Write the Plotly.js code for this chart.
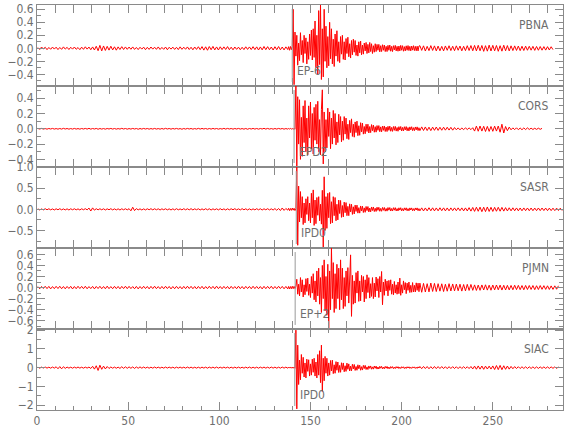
<!DOCTYPE html>
<html><head><meta charset="utf-8">
<script src="https://cdn.plot.ly/plotly-3.0.1.min.js"></script>
<style>html,body{margin:0;padding:0;background:#fff}#chart{width:580px;height:440px}</style>
</head><body><div id="chart"></div>
<script>
const stations = ['PBNA','CORS','SASR','PJMN','SIAC'];
const pickTimes = [140.0, 141.0, 142.2, 141.6, 141.4];
const pickLabels = ['EP-6','EPD2','IPD0','EP+2','IPD0'];
const yRanges = [[-0.58,0.666],[-0.50,0.56],[-0.915,1.002],[-0.748,0.714],[-2.26,2.06]];
const yDticks = [0.2,0.2,0.5,0.2,1];
const yMinorDticks = [0.1,0.1,0.25,0.1,0.5];
const yTickFormats = ['.1f','.1f','.1f','.1f','d'];
const xRange = [0, 288.5];

// sampling of the three stored segments (seconds)
const PRE_T0 = 0.5, PRE_DT = 1, MAIN_T0 = 138, MAIN_DT = 0.5, POST_T0 = 210, POST_DT = 1;

const pbnaPre = [0.012,-0.018,0.02,-0.01,0.016,-0.021,0.013,-0.015,0.019,-0.012,
0.017,-0.02,0.013,-0.016,0.022,-0.012,0.015,-0.019,0.016,-0.013,
0.02,-0.015,0.012,-0.021,0.018,-0.016,0.023,-0.013,0.019,-0.022,
0.021,-0.026,0.031,-0.037,0.045,-0.04,0.036,-0.033,0.03,-0.028,
0.032,-0.025,0.023,-0.029,0.022,-0.019,0.025,-0.018,0.021,-0.016,
0.019,-0.015,0.021,-0.017,0.013,-0.02,0.016,-0.013,0.018,-0.021,
0.015,-0.017,0.02,-0.013,0.017,-0.016,0.021,-0.018,0.014,-0.016,
0.02,-0.022,0.016,-0.013,0.018,-0.017,0.015,-0.02,0.022,-0.016,
0.017,-0.015,0.021,-0.019,0.016,-0.023,0.02,-0.017,0.024,-0.021,
0.026,-0.028,0.023,-0.03,0.027,-0.022,0.029,-0.025,0.021,-0.026,
0.023,-0.02,0.022,-0.018,0.026,-0.021,0.017,-0.023,0.02,-0.016,
0.018,-0.022,0.016,-0.02,0.023,-0.017,0.021,-0.019,0.025,-0.02,
0.022,-0.026,0.021,-0.024,0.028,-0.021,0.025,-0.022,0.02,-0.026,
0.024,-0.021,0.027,-0.023,0.02,-0.025,0.022,-0.019];
const pbnaMain = [0.025,-0.03,0.028,-0.022,0.03,0.6,-0.56,0.25,-0.12,0.2,
-0.26,0.08,-0.19,0.24,-0.1,0.12,-0.22,0.2,-0.08,0.16,
-0.24,0.1,-0.17,0.22,-0.11,0.28,-0.18,0.3,-0.14,0.42,
-0.3,0.2,-0.4,0.58,-0.25,0.666,-0.48,0.3,-0.44,0.6,
-0.2,0.34,-0.3,0.18,-0.27,0.4,-0.16,0.3,-0.24,0.14,
-0.28,0.22,-0.12,0.27,-0.2,0.1,-0.22,0.18,-0.09,0.2,
-0.17,0.1,-0.18,0.15,-0.08,0.17,-0.13,0.07,-0.15,0.12,
-0.1,0.14,-0.06,0.12,-0.11,0.05,-0.12,0.1,-0.07,0.11,
-0.1,0.05,-0.09,0.08,-0.04,0.09,-0.08,0.06,-0.07,0.09,
-0.05,0.07,-0.08,0.04,-0.06,0.07,-0.05,0.06,-0.03,0.06,
-0.055,0.04,-0.05,0.055,-0.03,0.05,-0.05,0.03,-0.05,0.045,
-0.03,0.05,-0.045,0.03,-0.05,0.04,-0.025,0.045,-0.04,0.03,
-0.045,0.035,-0.04,0.045,-0.03,0.04,-0.045,0.025,-0.04,0.038,
-0.03,0.042,-0.035,0.03,-0.04,0.035,-0.028,0.04,-0.035,0.03,
-0.038,0.032,-0.04,0.035];
const pbnaPost = [0.04,-0.032,0.038,-0.042,0.03,-0.036,0.041,-0.033,0.037,-0.04,
0.034,-0.038,0.03,-0.04,0.036,-0.031,0.039,-0.035,0.032,-0.037,
0.038,-0.03,0.035,-0.039,0.031,-0.036,0.04,-0.034,0.042,-0.038,
0.044,-0.04,0.046,-0.038,0.043,-0.047,0.04,-0.044,0.048,-0.041,
0.045,-0.039,0.043,-0.046,0.04,-0.044,0.047,-0.038,0.042,-0.04,
0.038,-0.035,0.037,-0.033,0.035,-0.036,0.032,-0.034,0.033,-0.03,
0.031,-0.029,0.03,-0.032,0.028,-0.03,0.027,-0.029,0.026,-0.028,
0.025,-0.026,0.024,-0.02];

const corsPre = [0.004,-0.003,0.005,-0.004,0.003,-0.005,0.004,-0.003,0.005,-0.004,
0.003,-0.005,0.004,-0.004,0.006,-0.003,0.004,-0.005,0.003,-0.004,
0.005,-0.004,0.003,-0.005,0.004,-0.003,0.005,-0.004,0.006,-0.005,
0.004,-0.003,0.005,-0.006,0.004,-0.004,0.003,-0.005,0.004,-0.003,
0.005,-0.004,0.004,-0.005,0.003,-0.004,0.006,-0.003,0.004,-0.005,
0.003,-0.004,0.005,-0.003,0.004,-0.006,0.004,-0.004,0.005,-0.003,
0.004,-0.005,0.003,-0.004,0.005,-0.004,0.003,-0.005,0.004,-0.004,
0.006,-0.003,0.004,-0.005,0.004,-0.003,0.005,-0.004,0.003,-0.006,
0.004,-0.004,0.005,-0.003,0.004,-0.005,0.003,-0.004,0.006,-0.004,
0.005,-0.003,0.004,-0.005,0.004,-0.004,0.005,-0.003,0.004,-0.005,
0.003,-0.004,0.006,-0.004,0.005,-0.003,0.004,-0.005,0.004,-0.003,
0.005,-0.004,0.003,-0.005,0.004,-0.006,0.004,-0.003,0.005,-0.004,
0.004,-0.005,0.004,-0.003,0.006,-0.004,0.005,-0.004,0.003,-0.005,
0.004,-0.004,0.005,-0.003,0.004,-0.005,0.003,-0.004];
const corsMain = [0.004,-0.003,0.005,-0.004,0.003,-0.005,0.004,-0.006,0.56,-0.5,
0.42,-0.2,0.38,-0.4,0.15,-0.36,0.3,-0.18,0.37,-0.3,
0.14,-0.34,0.3,-0.12,0.35,-0.26,0.2,-0.33,0.28,-0.15,
0.32,-0.2,0.36,-0.3,0.12,-0.34,0.25,0.51,-0.46,0.22,
-0.3,0.12,-0.25,0.27,-0.1,0.22,-0.26,0.14,-0.2,0.24,
-0.12,0.2,-0.21,0.09,-0.18,0.19,-0.08,0.16,-0.17,0.1,
-0.15,0.16,-0.07,0.14,-0.13,0.06,-0.14,0.11,-0.05,0.13,
-0.1,0.06,-0.11,0.09,-0.05,0.1,-0.09,0.04,-0.085,0.08,
-0.04,0.075,-0.07,0.03,-0.065,0.06,-0.035,0.06,-0.055,0.03,
-0.05,0.055,-0.025,0.048,-0.045,0.028,-0.044,0.042,-0.02,0.042,
-0.038,0.025,-0.04,0.036,-0.02,0.037,-0.035,0.022,-0.036,0.032,
-0.02,0.035,-0.032,0.018,-0.034,0.03,-0.02,0.032,-0.03,0.017,
-0.032,0.028,-0.016,0.03,-0.029,0.018,-0.028,0.027,-0.015,0.029,
-0.026,0.016,-0.028,0.025,-0.014,0.027,-0.024,0.015,-0.025,0.024,
-0.014,0.025,-0.023,0.014];
const corsPost = [-0.024,0.025,-0.022,0.024,-0.023,0.021,-0.024,0.022,-0.02,0.023,
-0.021,0.02,-0.019,0.021,-0.018,0.02,-0.017,0.019,-0.018,0.016,
-0.013,0.012,-0.014,0.011,-0.012,0.013,-0.01,0.012,-0.011,0.014,
-0.03,0.035,-0.032,0.036,-0.03,0.033,-0.035,0.031,-0.034,0.03,
-0.033,0.035,-0.03,0.036,-0.045,0.06,-0.055,0.03,-0.025,0.022,
-0.013,0.012,-0.011,0.013,-0.012,0.01,-0.012,0.011,-0.01,0.012,
-0.009,0.008,-0.009,0.007,-0.008,0.008,-0.007,0.006];

const sasrPre = [0.012,-0.015,0.01,-0.013,0.016,-0.011,0.014,-0.012,0.01,-0.015,
0.013,-0.011,0.015,-0.012,0.01,-0.014,0.012,-0.016,0.013,-0.01,
0.014,-0.012,0.011,-0.015,0.013,-0.01,0.016,-0.013,0.03,-0.04,
0.035,-0.02,0.015,-0.012,0.014,-0.011,0.013,-0.015,0.012,-0.01,
0.015,-0.013,0.011,-0.014,0.012,-0.016,0.013,-0.011,0.014,-0.012,
0.016,-0.035,0.05,-0.03,0.018,-0.013,0.012,-0.015,0.011,-0.014,
0.013,-0.01,0.015,-0.012,0.014,-0.011,0.013,-0.016,0.012,-0.01,
0.014,-0.013,0.011,-0.015,0.012,-0.014,0.016,-0.012,0.01,-0.013,
0.015,-0.011,0.013,-0.012,0.016,-0.014,0.012,-0.01,0.014,-0.015,
0.011,-0.013,0.015,-0.012,0.014,-0.016,0.012,-0.011,0.013,-0.014,
0.016,-0.012,0.011,-0.015,0.013,-0.012,0.014,-0.01,0.015,-0.013,
0.012,-0.014,0.016,-0.011,0.013,-0.015,0.012,-0.014,0.011,-0.013,
0.015,-0.012,0.014,-0.016,0.013,-0.011,0.015,-0.014,0.012,-0.016,
0.018,-0.022,0.02,-0.028,0.032,-0.025,0.02,-0.018];
const sasrMain = [0.025,-0.03,0.02,-0.025,0.03,-0.02,0.025,-0.03,0.02,1.0,
-0.85,0.55,-0.3,0.42,-0.2,0.3,-0.36,0.15,-0.32,0.25,
-0.12,0.3,-0.27,0.15,-0.32,0.38,-0.2,0.46,-0.38,0.22,
-0.34,0.28,-0.14,0.3,-0.27,0.12,-0.35,0.45,-0.91,0.77,
-0.5,0.3,-0.45,0.38,-0.2,0.4,-0.34,0.18,-0.32,0.3,
-0.15,0.28,-0.27,0.12,-0.25,0.22,-0.1,0.21,-0.19,0.09,
-0.18,0.17,-0.08,0.16,-0.15,0.07,-0.15,0.13,-0.06,0.12,
-0.12,0.06,-0.11,0.1,-0.05,0.1,-0.09,0.04,-0.09,0.08,
-0.04,0.075,-0.075,0.035,-0.07,0.068,-0.03,0.066,-0.062,0.03,
-0.06,0.056,-0.028,0.056,-0.052,0.025,-0.05,0.05,-0.024,0.048,
-0.046,0.022,-0.046,0.044,-0.022,0.044,-0.043,0.02,-0.042,0.042,
-0.02,0.042,-0.04,0.02,-0.04,0.039,-0.02,0.04,-0.038,0.018,
-0.038,0.036,-0.018,0.038,-0.036,0.017,-0.036,0.035,-0.018,0.036,
-0.034,0.017,-0.035,0.034,-0.016,0.034,-0.033,0.016,-0.034,0.033,
-0.016,0.034,-0.032,0.017];
const sasrPost = [-0.036,0.035,-0.038,0.033,-0.036,0.038,-0.034,0.036,-0.037,0.033,
-0.035,0.037,-0.032,0.035,-0.036,0.033,-0.035,0.034,-0.031,0.034,
-0.033,0.035,-0.032,0.034,-0.036,0.034,-0.038,0.04,-0.042,0.045,
-0.048,0.05,-0.046,0.052,-0.055,0.05,-0.053,0.056,-0.05,0.048,
-0.05,0.047,-0.045,0.048,-0.044,0.046,-0.042,0.04,-0.038,0.037,
-0.035,0.036,-0.034,0.033,-0.035,0.032,-0.034,0.033,-0.031,0.032,
-0.033,0.031,-0.032,0.03,-0.031,0.032,-0.03,0.031,-0.029,0.03,
-0.031,0.029,-0.03,0.028,-0.03,0.029,-0.028,0.027,-0.028];

const pjmnPre = [0.018,-0.022,0.02,-0.017,0.023,-0.019,0.021,-0.024,0.018,-0.02,
0.022,-0.018,0.024,-0.021,0.019,-0.023,0.02,-0.017,0.022,-0.025,
0.019,-0.021,0.023,-0.018,0.021,-0.02,0.024,-0.022,0.018,-0.019,
0.021,-0.024,0.02,-0.018,0.023,-0.021,0.019,-0.022,0.025,-0.02,
0.018,-0.021,0.022,-0.019,0.02,-0.023,0.021,-0.018,0.024,-0.02,
0.022,-0.019,0.018,-0.022,0.021,-0.024,0.019,-0.02,0.023,-0.018,
0.02,-0.023,0.021,-0.019,0.024,-0.02,0.018,-0.022,0.02,-0.021,
0.023,-0.018,0.02,-0.024,0.019,-0.021,0.022,-0.02,0.018,-0.023,
0.021,-0.02,0.024,-0.018,0.022,-0.021,0.019,-0.023,0.02,-0.019,
0.022,-0.024,0.018,-0.02,0.023,-0.019,0.021,-0.022,0.025,-0.02,
0.019,-0.022,0.021,-0.018,0.02,-0.024,0.022,-0.019,0.018,-0.021,
0.024,-0.02,0.019,-0.023,0.021,-0.018,0.02,-0.022,0.023,-0.019,
0.02,-0.021,0.018,-0.024,0.022,-0.02,0.021,-0.019,0.024,-0.022,
0.019,-0.02,0.023,-0.018,0.021,-0.022,0.02,-0.024];
const pjmnMain = [0.02,-0.025,0.018,-0.022,0.024,-0.02,0.022,-0.018,0.025,0.15,
-0.12,0.06,-0.15,0.18,-0.08,0.14,-0.17,0.05,-0.13,0.16,
-0.07,0.17,-0.14,0.06,-0.18,0.2,-0.1,0.25,-0.22,0.12,
-0.26,0.3,-0.15,0.35,-0.3,0.18,-0.45,0.4,-0.2,0.5,
-0.42,0.2,-0.5,0.42,-0.75,0.3,-0.4,0.714,-0.2,0.45,
-0.45,0.25,-0.38,0.42,-0.2,0.35,-0.4,0.5,-0.22,0.35,
-0.38,0.18,-0.34,0.3,-0.15,0.36,-0.28,0.2,0.59,-0.52,
0.22,-0.3,0.12,-0.28,0.27,-0.1,0.3,-0.25,0.12,-0.24,
0.22,-0.08,0.2,-0.26,0.14,-0.2,0.23,-0.09,0.18,-0.19,
0.07,-0.16,0.18,-0.2,0.08,-0.17,0.19,-0.06,0.16,-0.18,
0.2,-0.08,0.29,-0.31,0.1,-0.14,0.15,-0.06,0.12,-0.15,
0.13,-0.05,0.14,-0.12,0.06,-0.13,0.11,-0.1,0.05,-0.12,
0.1,-0.11,0.17,-0.14,0.05,-0.1,0.12,-0.04,0.09,-0.11,
0.08,-0.05,0.1,-0.09,0.04,-0.085,0.09,-0.08,0.04,-0.08,
0.085,-0.05,0.08,-0.075];
const pjmnPost = [0.08,-0.085,0.075,-0.08,0.07,-0.078,0.082,-0.07,0.075,-0.072,
0.07,-0.065,0.068,-0.072,0.06,-0.066,0.07,-0.062,0.065,-0.06,
0.062,-0.058,0.06,-0.064,0.055,-0.06,0.058,-0.052,0.056,-0.05,
0.048,-0.052,0.045,-0.05,0.047,-0.044,0.05,-0.046,0.043,-0.048,
0.045,-0.042,0.046,-0.04,0.044,-0.045,0.041,-0.043,0.04,-0.042,
0.038,-0.04,0.042,-0.037,0.04,-0.038,0.036,-0.04,0.038,-0.035,
0.037,-0.034,0.036,-0.038,0.033,-0.035,0.036,-0.032,0.034,-0.033,
0.032,-0.034,0.03,-0.033,0.031,-0.03,0.032];

const siacPre = [0.025,-0.03,0.028,-0.022,0.032,-0.027,0.024,-0.029,0.031,-0.026,
0.045,-0.06,0.055,-0.065,0.05,-0.042,0.03,-0.027,0.025,-0.03,
0.028,-0.024,0.031,-0.026,0.023,-0.029,0.027,-0.025,0.03,-0.045,
0.07,-0.08,0.1,-0.15,0.13,-0.09,0.08,-0.07,0.06,-0.045,
0.035,-0.03,0.028,-0.032,0.026,-0.04,0.045,-0.038,0.042,-0.036,
0.04,-0.035,0.038,-0.042,0.036,-0.034,0.04,-0.03,0.033,-0.028,
0.026,-0.03,0.024,-0.028,0.031,-0.025,0.027,-0.029,0.023,-0.027,
0.03,-0.024,0.028,-0.026,0.025,-0.03,0.027,-0.023,0.029,-0.026,
0.024,-0.028,0.03,-0.025,0.027,-0.029,0.022,-0.027,0.025,-0.03,
0.028,-0.025,0.026,-0.03,0.029,-0.024,0.027,-0.026,0.03,-0.028,
0.025,-0.027,0.029,-0.023,0.026,-0.028,0.024,-0.03,0.027,-0.025,
0.028,-0.026,0.023,-0.029,0.027,-0.024,0.03,-0.027,0.025,-0.028,
0.026,-0.03,0.028,-0.025,0.029,-0.027,0.024,-0.028,0.03,-0.026,
0.027,-0.029,0.025,-0.028,0.03,-0.026,0.028,-0.03];
const siacMain = [0.03,-0.025,0.035,-0.03,0.028,-0.032,0.03,-0.035,2.0,-2.2,
1.2,-0.9,0.4,-0.65,0.7,-0.3,0.55,-0.5,0.25,-0.55,
0.45,-0.2,0.42,-0.45,0.2,-0.4,0.45,-0.25,0.5,-0.45,
0.3,-0.55,0.7,-0.4,0.9,-0.8,1.2,-1.28,0.5,-0.7,
0.6,-0.3,0.5,-0.45,0.25,-0.4,0.38,-0.18,0.4,-0.32,
0.15,-0.3,0.32,-0.14,0.3,-0.26,0.12,-0.25,0.26,-0.1,
0.25,-0.22,0.1,-0.2,0.24,-0.09,0.2,-0.18,0.08,-0.17,
0.18,-0.07,0.17,-0.15,0.06,-0.14,0.15,-0.06,0.13,-0.14,
0.05,-0.13,0.12,-0.05,0.12,-0.1,0.04,-0.1,0.09,-0.04,
0.09,-0.085,0.04,-0.08,0.085,-0.035,0.08,-0.078,0.035,-0.075,
0.07,-0.03,0.068,-0.065,0.03,-0.062,0.065,-0.03,0.062,-0.058,
0.03,-0.057,0.055,-0.028,0.054,-0.052,0.025,-0.05,0.052,-0.025,
0.05,-0.048,0.024,-0.046,0.048,-0.022,0.045,-0.048,0.022,-0.044,
0.045,-0.02,0.044,-0.042,0.02,-0.041,0.042,-0.02,0.041,-0.042,
0.02,-0.039,0.041,-0.02];
const siacPost = [0.06,-0.055,0.062,-0.05,0.058,-0.06,0.052,-0.057,0.06,-0.053,
0.055,-0.05,0.057,-0.052,0.05,-0.055,0.052,-0.048,0.054,-0.05,
0.048,-0.052,0.05,-0.047,0.05,-0.045,0.048,-0.05,0.06,-0.07,
0.08,-0.085,0.09,-0.08,0.085,-0.09,0.08,-0.075,0.08,-0.078,
0.09,-0.1,0.11,-0.105,0.12,-0.11,0.1,-0.09,0.085,-0.08,
0.065,-0.06,0.055,-0.05,0.05,-0.048,0.047,-0.045,0.044,-0.046,
0.043,-0.045,0.042,-0.044,0.041,-0.043,0.04,-0.042,0.041,-0.04,
0.039,-0.041,0.04,-0.038,0.039,-0.04,0.038];

const segments = [
  [pbnaPre, pbnaMain, pbnaPost],
  [corsPre, corsMain, corsPost],
  [sasrPre, sasrMain, sasrPost],
  [pjmnPre, pjmnMain, pjmnPost],
  [siacPre, siacMain, siacPost]
];

function sampleTimes(t0, dt, n) { const a = []; for (let i = 0; i < n; i++) a.push(t0 + i * dt); return a; }

const FONT = '"Liberation Sans Narrow", "DejaVu Sans Condensed", "Liberation Sans", sans-serif';
const AXC = '#8a8a8a';
const TXC = '#6e6e6e';
const FS = 12;
const N = stations.length;

const traces = [];
const layout = {
  width: 580, height: 440,
  margin: {l: 37, r: 17, t: 5, b: 30},
  paper_bgcolor: '#fff', plot_bgcolor: '#fff',
  showlegend: false,
  font: {family: FONT, color: TXC, size: FS},
  shapes: [], annotations: [],
  xaxis: {
    range: xRange, domain: [0, 1], anchor: 'y' + N,
    showline: true, linecolor: AXC, linewidth: 1, mirror: 'allticks',
    ticks: 'inside', ticklen: 8, tickcolor: AXC, tickwidth: 1,
    tick0: 0, dtick: 50,
    minor: {dtick: 10, ticklen: 4, ticks: 'inside', tickcolor: AXC},
    showgrid: false, zeroline: false,
    tickfont: {family: FONT, size: FS, color: TXC}
  }
};

for (let k = 0; k < N; k++) {
  const [pre, main, post] = segments[k];
  const x = sampleTimes(PRE_T0, PRE_DT, pre.length)
    .concat(sampleTimes(MAIN_T0, MAIN_DT, main.length))
    .concat(sampleTimes(POST_T0, POST_DT, post.length));
  const y = pre.concat(main, post);
  const yname = k === 0 ? 'y' : 'y' + (k + 1);
  const ykey = k === 0 ? 'yaxis' : 'yaxis' + (k + 1);
  traces.push({x: x, y: y, type: 'scatter', mode: 'lines', xaxis: 'x', yaxis: yname,
    line: {color: '#ff0000', width: 1}, hoverinfo: 'skip'});
  layout[ykey] = {
    domain: [(N - 1 - k) / N, (N - k) / N], anchor: 'x',
    range: yRanges[k],
    showline: true, linecolor: AXC, linewidth: 1, mirror: 'ticks',
    ticks: 'inside', ticklen: 8, tickcolor: AXC, tickwidth: 1,
    tick0: 0, dtick: yDticks[k], tickformat: yTickFormats[k],
    minor: {dtick: yMinorDticks[k], ticklen: 4, ticks: 'inside', tickcolor: AXC},
    showgrid: false, zeroline: false,
    tickfont: {family: FONT, size: FS, color: TXC}
  };
  layout.shapes.push({type: 'line', xref: 'x', yref: yname + ' domain',
    x0: pickTimes[k], x1: pickTimes[k], y0: 0.05, y1: 0.95,
    line: {color: '#999999', width: 1}, layer: 'above'});
  layout.annotations.push({xref: 'x', yref: yname + ' domain', x: pickTimes[k], y: 0.185,
    xanchor: 'left', yanchor: 'middle', xshift: 3, showarrow: false,
    text: pickLabels[k], font: {family: FONT, size: FS, color: TXC}});
  layout.annotations.push({xref: 'x domain', yref: yname + ' domain', x: 1, y: 0.755,
    xanchor: 'right', yanchor: 'middle', xshift: -12, showarrow: false,
    text: stations[k], font: {family: FONT, size: FS, color: TXC}});
}

Plotly.newPlot('chart', traces, layout, {staticPlot: true, displayModeBar: false});
</script>
</body></html>
